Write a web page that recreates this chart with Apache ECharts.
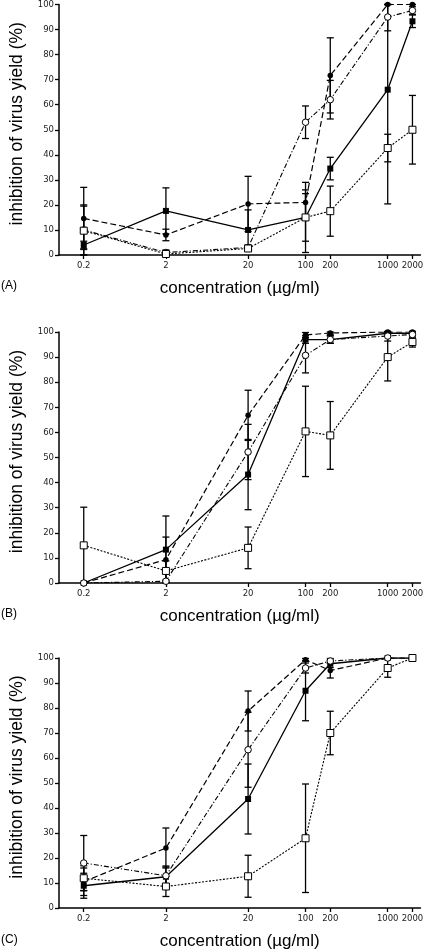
<!DOCTYPE html>
<html><head><meta charset="utf-8">
<script src="https://cdn.jsdelivr.net/npm/echarts@6/dist/echarts.min.js"></script>
<style>html,body{margin:0;padding:0;background:#fff}#c{width:426px;height:951px}</style>
</head><body><div id="c"></div><script>
const concentrations = [0.2, 2, 20, 100, 200, 1000, 2000];
const xTickLabels = ['0.2', '2', '20', '100', '200', '1000', '2000'];
const yTicks = [0, 10, 20, 30, 40, 50, 60, 70, 80, 90, 100];
const panelLabels = ['(A)', '(B)', '(C)'];
const xAxisTitle = 'concentration (µg/ml)';
const yAxisTitle = 'inhibition of virus yield (%)';

// Panel A
const aFilledSquare = [4, 17.6, 10, 15, 34.5, 66, 93.3];
const aFilledSquareErr = [1.5, 9.2, 8, 14, 4.5, 45.6, 2.5];
const aFilledCircle = [14.6, 8, 20.4, 21, 71.7, 100, 100];
const aFilledCircleErr = [12.4, 2.3, 11, 5, 15, 0, 0];
const aOpenCircle = [10, 1, 3, 53, 62, 95, 97.6];
const aOpenCircleErr = [10, 1, 1, 6.5, 7.7, 5.5, 1.5];
const aOpenSquare = [9.7, 0.4, 2.6, 15, 17.5, 42.7, 50];
const aOpenSquareErr = [9.8, 1, 1, 9.5, 10, 5.5, 13.7];

// Panel B
const bFilledSquare = [0, 13.3, 43.2, 97, 97, 99.5, 99.5];
const bFilledSquareErr = [0, 13.4, 14, 1.5, 1.5, 0.5, 0.5];
const bFilledCircle = [0, 9.3, 66.8, 98.8, 99.6, 100, 100];
const bFilledCircleErr = [0, 9, 10, 1, 0.5, 0, 0];
const bOpenCircle = [0, 0.7, 52.2, 90.7, 97, 98.4, 99];
const bOpenCircleErr = [0, 0.5, 11, 7, 1.5, 2, 1];
const bOpenSquare = [15, 4.8, 14, 60.4, 58.8, 90, 96];
const bOpenSquareErr = [15.2, 4, 8.3, 18, 13.5, 9.5, 2];

// Panel C
const cFilledSquare = [8.9, 12.5, 43.6, 86.9, 97.7, 100, 100];
const cFilledSquareErr = [5, 4.3, 14, 12, 1.5, 0, 0];
const cFilledCircle = [10.5, 24, 78.8, 99.3, 95, 100, 100];
const cFilledCircleErr = [5.5, 8, 8, 0.5, 3, 0, 0];
const cOpenCircle = [18, 12.9, 63.3, 96, 98.8, 100, 100];
const cOpenCircleErr = [11, 3.5, 15, 2, 1, 0, 0];
const cOpenSquare = [11.9, 8.6, 12.7, 27.9, 70, 96, 100];
const cOpenSquareErr = [5, 4, 8.4, 21.7, 8.7, 3.7, 0];

const panels = [
  [[aFilledSquare, aFilledSquareErr], [aFilledCircle, aFilledCircleErr], [aOpenCircle, aOpenCircleErr], [aOpenSquare, aOpenSquareErr]],
  [[bFilledSquare, bFilledSquareErr], [bFilledCircle, bFilledCircleErr], [bOpenCircle, bOpenCircleErr], [bOpenSquare, bOpenSquareErr]],
  [[cFilledSquare, cFilledSquareErr], [cFilledCircle, cFilledCircleErr], [cOpenCircle, cOpenCircleErr], [cOpenSquare, cOpenSquareErr]]
];

const styles = [
  { symbol: 'rect', size: 6, fill: '#000', line: 'solid', width: 1.3 },
  { symbol: 'circle', size: 5.5, fill: '#000', line: [6, 3], width: 1.2 },
  { symbol: 'circle', size: 6.5, fill: '#fff', line: [5, 2, 1.2, 2], width: 1.1 },
  { symbol: 'rect', size: 7, fill: '#fff', line: [2, 1.5], width: 1.1 }
];

const gridTops = [4, 332, 658];
const grids = [], xAxes = [], yAxes = [], series = [], graphics = [];
const labelFont = 'DejaVu Sans';
const titleFont = 'Liberation Sans';

function xLabel(v) {
  const i = concentrations.findIndex(c => Math.abs(c - v) / c < 1e-6);
  return i >= 0 ? xTickLabels[i] : '';
}

gridTops.forEach((top, p) => {
  grids.push({ left: 47, top: top, width: 378, height: 251 });
  xAxes.push({
    type: 'log', logBase: 10, gridIndex: p, min: 0.1, max: 2500,
    name: xAxisTitle, nameLocation: 'middle', nameGap: 25,
    nameTextStyle: { fontFamily: titleFont, fontSize: 17, color: '#000' },
    axisLine: { lineStyle: { color: '#000', width: 1.5 } },
    axisTick: { customValues: concentrations, length: 4, lineStyle: { color: '#000', width: 1.3 } },
    axisLabel: { customValues: concentrations, formatter: xLabel, fontFamily: labelFont, fontSize: 8.5, color: '#222', margin: 6 },
    splitLine: { show: false }, minorTick: { show: false }
  });
  yAxes.push({
    type: 'value', gridIndex: p, min: 0, max: 100, interval: 10,
    name: yAxisTitle, nameLocation: 'middle', nameGap: 33,
    nameTextStyle: { fontFamily: titleFont, fontSize: 17.5, color: '#000', padding: [0, 0, 0, 12] },
    axisLine: { lineStyle: { color: '#000', width: 1.5 } },
    axisTick: { length: 4, lineStyle: { color: '#000', width: 1.3 } },
    axisLabel: { fontFamily: labelFont, fontSize: 8.5, color: '#222', margin: 5 },
    splitLine: { show: false }
  });
  graphics.push({
    type: 'text', left: 1, top: top + 276,
    style: { text: panelLabels[p], font: '12px "Liberation Sans"', fill: '#000' }
  });
  panels[p].forEach(([vals, errs], s) => {
    const st = styles[s];
    series.push({
      type: 'custom', xAxisIndex: p, yAxisIndex: p, z: 1, silent: true,
      data: concentrations.map((c, i) => [c, Math.max(0, vals[i] - errs[i]), Math.min(100, vals[i] + errs[i])]),
      encode: { x: 0, y: [1, 2] },
      renderItem: (params, api) => {
        const x = api.value(0);
        const lo = api.coord([x, api.value(1)]);
        const hi = api.coord([x, api.value(2)]);
        const hw = 3.5;
        const ls = { stroke: '#000', lineWidth: 1.3 };
        return { type: 'group', children: [
          { type: 'line', shape: { x1: hi[0], y1: hi[1], x2: lo[0], y2: lo[1] }, style: ls },
          { type: 'line', shape: { x1: hi[0] - hw, y1: hi[1], x2: hi[0] + hw, y2: hi[1] }, style: ls },
          { type: 'line', shape: { x1: lo[0] - hw, y1: lo[1], x2: lo[0] + hw, y2: lo[1] }, style: ls }
        ] };
      }
    });
    series.push({
      type: 'line', xAxisIndex: p, yAxisIndex: p, z: 2 + s,
      data: concentrations.map((c, i) => [c, vals[i]]),
      symbol: st.symbol, symbolSize: st.size, showAllSymbol: true,
      itemStyle: { color: st.fill, borderColor: '#000', borderWidth: st.fill === '#fff' ? 1 : 0 },
      lineStyle: { color: '#000', width: st.width, type: st.line },
      animation: false
    });
  });
});

const chart = echarts.init(document.getElementById('c'), null, { renderer: 'canvas' });
chart.setOption({
  animation: false,
  backgroundColor: '#fff',
  grid: grids, xAxis: xAxes, yAxis: yAxes, series: series, graphic: graphics
});
</script></body></html>
